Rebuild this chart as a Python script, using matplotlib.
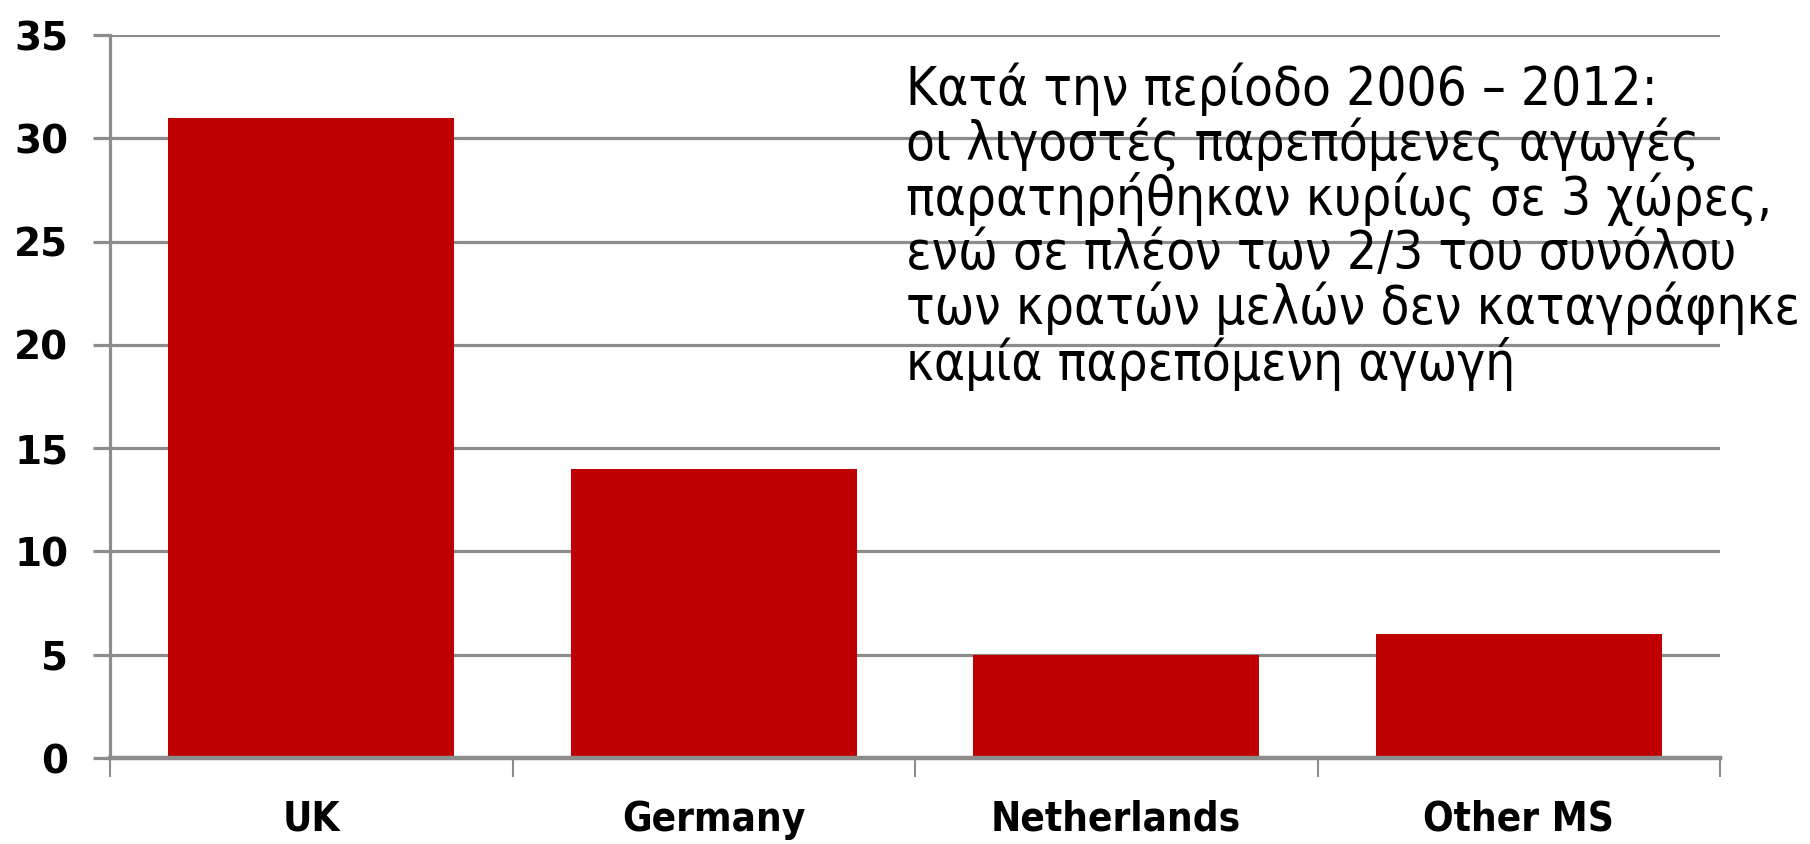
import matplotlib.pyplot as plt
import numpy as np

# Data
categories = ['UK', 'Germany', 'Netherlands', 'Other MS']
values = [31, 14, 5, 6]
yticks = [0, 5, 10, 15, 20, 25, 30, 35]

note_lines = [
    'Κατά την περίοδο 2006 – 2012:',
    'οι λιγοστές παρεπόμενες αγωγές',
    'παρατηρήθηκαν κυρίως σε 3 χώρες,',
    'ενώ σε πλέον των 2/3 του συνόλου',
    'των κρατών μελών δεν καταγράφηκε',
    'καμία παρεπόμενη αγωγή',
]

grid_color = '#8c8c8c'
bar_color = '#c00000'

fig = plt.figure(figsize=(18.1, 8.44), dpi=100)
ax = fig.add_axes([110 / 1810, 86 / 844, 1610 / 1810, 723 / 844])

x = np.arange(len(categories))
ax.bar(x, values, width=0.71, color=bar_color, zorder=3)

ax.set_xlim(-0.5, len(categories) - 0.5)
ax.set_ylim(0, 35)

# horizontal gridlines
ax.set_yticks(yticks)
ax.yaxis.grid(True, color=grid_color, linewidth=2.3, zorder=0)
ax.set_axisbelow(True)

for side in ['top', 'right']:
    ax.spines[side].set_visible(False)
ax.spines['left'].set_color(grid_color)
ax.spines['left'].set_linewidth(2.3)
ax.spines['bottom'].set_color(grid_color)
ax.spines['bottom'].set_linewidth(3.2)
ax.spines['bottom'].set_zorder(4)

ax.tick_params(axis='y', direction='out', length=12, width=2.3, color=grid_color,
               pad=18, labelsize=28)
for lab in ax.get_yticklabels():
    lab.set_fontweight('bold')
    lab.set_family('DejaVu Sans')

# x ticks on category boundaries, labels centred under bars
ax.set_xticks(np.arange(-0.5, len(categories)), minor=False)
ax.set_xticklabels([])
ax.tick_params(axis='x', which='major', direction='out', length=14, width=1.5,
               color=grid_color)
ax.set_xticks(x, minor=True)
ax.set_xticklabels(categories, minor=True, fontsize=29, fontweight='bold',
                   family='DejaVu Sans', fontstretch='condensed')
ax.tick_params(axis='x', which='minor', length=0, pad=30)

fig.text(906 / 1810, 1 - 62 / 844, '\n'.join(note_lines), ha='left', va='top',
         fontsize=38, family='DejaVu Sans', fontstretch='condensed',
         linespacing=1.04, color='black')

fig.savefig('out.png', dpi=100)
